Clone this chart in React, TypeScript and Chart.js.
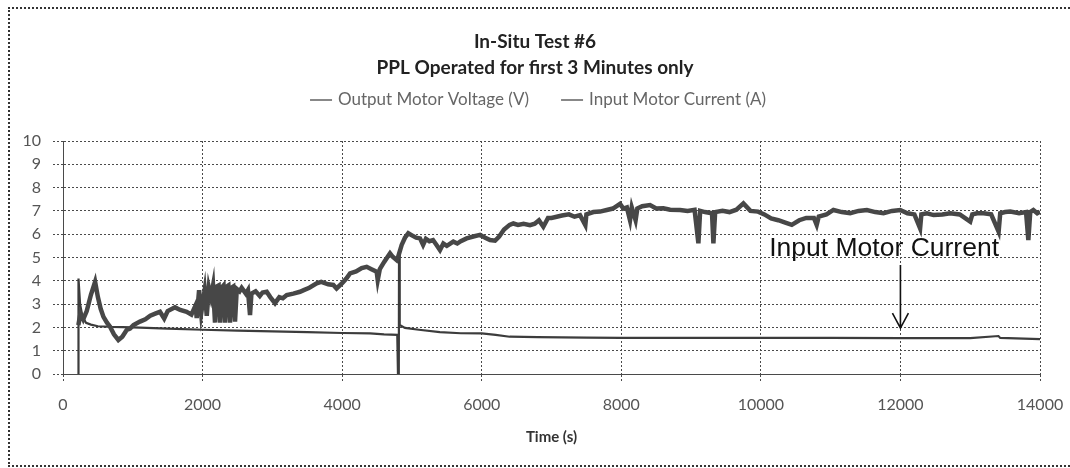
import React, { useEffect, useRef } from "react";
import { Chart, registerables } from "chart.js";

Chart.register(...registerables);

// ---------- text ----------
const TITLE_LINES = ["In-Situ Test #6", "PPL Operated for first 3 Minutes only"];
const X_AXIS_TITLE = "Time (s)";
const SERIES_NAMES = ["Output Motor Voltage (V)", "Input Motor Current (A)"];
const ANNOTATION_TEXT = "Input Motor Current";

// ---------- ticks ----------
const X_TICKS = [0, 2000, 4000, 6000, 8000, 10000, 12000, 14000];
const Y_TICKS = [0, 1, 2, 3, 4, 5, 6, 7, 8, 9, 10];

// ---------- series: Output Motor Voltage (V) ----------
const voltageTime = [
  220, 250, 290, 340, 400, 460, 500, 540, 580, 630, 674, 730, 793, 850, 912, 960,
  1010, 1103, 1180, 1250, 1330, 1390, 1450, 1500, 1605, 1680, 1772, 1840, 1900, 1916,
  1950, 1980, 2000, 2030, 2060, 2090, 2120, 2150, 2178, 2200, 2230, 2250, 2270, 2300,
  2321, 2345, 2370, 2393, 2415, 2440, 2465, 2490, 2530, 2560, 2584, 2620, 2650, 2680,
  2700, 2760, 2820, 2860, 2919, 2970, 3038, 3100, 3150, 3206, 3300, 3396, 3450, 3530,
  3635, 3700, 3800, 3874, 3920, 4000, 4060, 4113, 4200, 4280, 4352, 4420, 4495, 4510,
  4540, 4600, 4686, 4720, 4782, 4800, 4853, 4900, 4948, 5000, 5060, 5116, 5160, 5200,
  5250, 5303, 5350, 5402, 5450, 5500, 5593, 5650, 5700, 5784, 5880, 5976, 6050, 6120,
  6191, 6250, 6320, 6400, 6453, 6520, 6600, 6692, 6760, 6820, 6883, 6950, 7000, 7074,
  7150, 7250, 7330, 7409, 7485, 7500, 7600, 7695, 7791, 7880, 7982, 8030, 8080, 8125,
  8150, 8205, 8230, 8300, 8412, 8500, 8603, 8700, 8842, 8950, 9050, 9105, 9130, 9200,
  9300, 9320, 9345, 9450, 9550, 9650, 9750, 9850, 9960, 10050, 10147, 10250, 10350, 10443,
  10550, 10650, 10760, 10800, 10830, 10940, 11040, 11160, 11280, 11400, 11519, 11640, 11758, 11880,
  11997, 12100, 12200, 12282, 12300, 12380, 12475, 12600, 12714, 12850, 13000, 13030, 13100, 13192,
  13300, 13407, 13430, 13500, 13574, 13700, 13800, 13833, 13860, 13905, 13960, 14000,
];
const voltageValues = [
  2.1, 2.6, 2.35, 2.7, 3.4, 3.96, 3.3, 2.8, 2.45, 2.2, 2.03, 1.7, 1.46, 1.6, 1.89, 1.95,
  2.1, 2.25, 2.35, 2.5, 2.6, 2.67, 2.38, 2.7, 2.86, 2.75, 2.67, 2.55, 2.95, 2.4,
  3.6, 2.6, 3.0, 3.6, 2.5, 3.7, 3.3, 3.8, 2.2, 3.75, 3.8, 2.2, 3.7, 3.8,
  2.2, 3.75, 3.8, 2.2, 3.7, 3.75, 2.25, 3.65, 3.55, 3.7, 3.6, 3.45, 3.6, 2.53,
  3.45, 3.55, 3.35, 3.5, 3.53, 3.3, 3.04, 3.3, 3.25, 3.39, 3.45, 3.53, 3.6, 3.7,
  3.89, 3.95, 3.85, 3.82, 3.67, 3.9, 4.1, 4.32, 4.4, 4.55, 4.6, 4.5, 4.39, 4.03,
  4.5, 4.8, 5.18, 5.05, 4.89, 5.0, 5.54, 5.85, 6.04, 5.95, 5.85, 5.82, 5.54, 5.8,
  5.7, 5.75, 5.55, 5.32, 5.6, 5.5, 5.68, 5.6, 5.7, 5.82, 5.9, 5.97, 5.85, 5.75,
  5.72, 5.9, 6.2, 6.4, 6.46, 6.4, 6.45, 6.39, 6.45, 6.6, 6.32, 6.7, 6.7, 6.75,
  6.8, 6.85, 6.75, 6.82, 6.39, 6.85, 6.95, 6.97, 7.04, 7.1, 7.3, 7.1, 7.15, 6.6,
  7.15, 6.6, 7.1, 7.2, 7.25, 7.1, 7.11, 7.05, 7.04, 7.0, 7.05, 5.61, 7.0, 6.95,
  6.9, 5.61, 6.95, 7.0, 6.95, 7.05, 7.32, 7.0, 6.97, 6.85, 6.68, 6.6, 6.5, 6.4,
  6.6, 6.7, 6.7, 6.4, 6.76, 6.85, 7.04, 6.95, 6.9, 7.0, 7.04, 6.95, 6.9, 7.0,
  7.04, 6.9, 6.85, 6.25, 6.85, 6.9, 6.82, 6.85, 6.9, 6.85, 6.54, 6.85, 6.9, 6.9,
  6.85, 6.11, 6.9, 6.95, 6.97, 6.9, 6.95, 5.75, 6.95, 7.04, 6.9, 6.97,
];

// ---------- series: Input Motor Current (A) ----------
const currentTime = [
  220, 222, 245, 280, 330, 400, 500, 700, 1000, 1500, 2000, 2500, 3000, 3500, 4000,
  4400, 4600, 4790, 4800, 4812, 4815, 4825, 4900, 5100, 5400, 5700, 6000, 6200, 6400,
  6800, 7500, 8000, 9000, 10000, 11000, 12000, 13000, 13405, 13430, 14000,
];
const currentValues = [
  0, 4.1, 3.0, 2.45, 2.2, 2.12, 2.05, 2.02, 2.0, 1.95, 1.9, 1.86, 1.83, 1.8, 1.76,
  1.74, 1.7, 1.68, 0, 0, 5.2, 2.1, 1.98, 1.9, 1.8, 1.75, 1.74, 1.68, 1.6,
  1.58, 1.56, 1.55, 1.55, 1.55, 1.55, 1.54, 1.54, 1.63, 1.55, 1.5,
];

// annotation anchor in data units: text baseline-left, and arrow (x, from y, to y)
const ANNOTATION_TEXT_AT = { x: 10120, y: 5.06 };
const ANNOTATION_ARROW = { x: 12000, fromY: 4.68, toY: 1.97 };

const W = 1070;
const H = 468;

const customLegend = {
  id: "customLegend",
  afterDraw(chart: any) {
    const ctx = chart.ctx as CanvasRenderingContext2D;
    const sw = 22;
    const gap = 6;
    const itemGap = 32;
    ctx.save();
    ctx.font = "17px Lato";
    const items = chart.data.datasets
      .filter((ds: any) => ds.label)
      .map((ds: any) => ({ text: ds.label, color: ds.legendColor }));
    const widths = items.map((it: any) => sw + gap + ctx.measureText(it.text).width);
    const total = widths.reduce((a: number, b: number) => a + b, 0) + itemGap * (items.length - 1);
    let x = chart.width / 2 + 3 - total / 2;
    const y = 100;
    items.forEach((it: any, i: number) => {
      ctx.strokeStyle = it.color;
      ctx.lineWidth = 2;
      ctx.beginPath();
      ctx.moveTo(x, y);
      ctx.lineTo(x + sw, y);
      ctx.stroke();
      ctx.fillStyle = "#666";
      ctx.textBaseline = "middle";
      ctx.textAlign = "left";
      ctx.fillText(it.text, x + sw + gap, y);
      x += widths[i] + itemGap;
    });
    ctx.restore();
  },
};

const annotationPlugin = {
  id: "annotation",
  afterDatasetsDraw(chart: any) {
    const ctx = chart.ctx as CanvasRenderingContext2D;
    const xs = chart.scales.x;
    const ys = chart.scales.y;
    ctx.save();
    ctx.fillStyle = "#111";
    ctx.font = "26.5px 'Liberation Sans'";
    ctx.textBaseline = "alphabetic";
    ctx.textAlign = "left";
    ctx.fillText(ANNOTATION_TEXT, xs.getPixelForValue(ANNOTATION_TEXT_AT.x), ys.getPixelForValue(ANNOTATION_TEXT_AT.y));
    const ax = xs.getPixelForValue(ANNOTATION_ARROW.x);
    const y0 = ys.getPixelForValue(ANNOTATION_ARROW.fromY);
    const y1 = ys.getPixelForValue(ANNOTATION_ARROW.toY);
    ctx.strokeStyle = "#111";
    ctx.lineWidth = 1.6;
    ctx.beginPath();
    ctx.moveTo(ax, y0);
    ctx.lineTo(ax, y1);
    ctx.moveTo(ax - 8, y1 - 15);
    ctx.lineTo(ax, y1);
    ctx.lineTo(ax + 8, y1 - 15);
    ctx.stroke();
    ctx.restore();
  },
};

export default function App() {
  const ref = useRef<HTMLCanvasElement | null>(null);

  useEffect(() => {
    if (!ref.current) return;
    const gridColor = "#4a4a4a";
    const chart = new Chart(ref.current, {
      type: "line",
      data: {
        datasets: [
          {
            label: SERIES_NAMES[0],
            data: voltageTime.map((t, i) => ({ x: t, y: voltageValues[i] })),
            borderColor: "#474747",
            backgroundColor: "#474747",
            borderWidth: 4.5,
            pointRadius: 0,
            tension: 0,
            legendColor: "#888",
          } as any,
          {
            label: SERIES_NAMES[1],
            data: currentTime.map((t, i) => ({ x: t, y: currentValues[i] })),
            borderColor: "#3c3c3c",
            backgroundColor: "#3c3c3c",
            borderWidth: 2.2,
            pointRadius: 0,
            tension: 0,
            legendColor: "#888",
          } as any,
        ],
      },
      options: {
        responsive: false,
        animation: false,
        devicePixelRatio: 1,
        layout: { padding: { left: 0, right: 0, top: 0, bottom: 0 } },
        plugins: {
          legend: { display: false },
          tooltip: { enabled: false },
          title: {
            display: true,
            text: TITLE_LINES,
            color: "#222",
            font: { family: "Lato", size: 19, weight: "bold", lineHeight: 26 / 19 },
            padding: { top: 29, bottom: 60 },
          },
        },
        scales: {
          x: {
            type: "linear",
            min: 0,
            max: 14000,
            afterBuildTicks: (s: any) => {
              s.ticks = X_TICKS.map((v) => ({ value: v }));
            },
            afterFit: (s: any) => {
              s.height = 94;
              s.paddingLeft = 0;
              s.paddingRight = 0;
            },
            ticks: {
              color: "#555",
              font: { family: "Lato", size: 16 },
              padding: 13,
              maxRotation: 0,
              callback: (v: any) => String(v),
            },
            grid: {
              color: gridColor,
              lineWidth: 1,
              borderDash: [2, 2],
              tickLength: 8,
              tickColor: gridColor,
              tickBorderDash: [2, 2],
            },
            border: { display: true, color: gridColor, dash: [2, 2] },
            title: {
              display: true,
              text: X_AXIS_TITLE,
              color: "#333",
              font: { family: "Lato", size: 15, weight: "bold" },
              padding: { top: 0, bottom: 22 },
            },
          },
          y: {
            min: 0,
            max: 10,
            afterBuildTicks: (s: any) => {
              s.ticks = Y_TICKS.map((v) => ({ value: v }));
            },
            afterFit: (s: any) => {
              s.width = 63;
              s.paddingTop = 0;
              s.paddingBottom = 0;
            },
            ticks: {
              color: "#555",
              font: { family: "Lato", size: 16 },
              padding: 12,
            },
            grid: {
              color: gridColor,
              lineWidth: 1,
              borderDash: [2, 2],
              tickLength: 10,
              tickColor: gridColor,
              tickBorderDash: [2, 2],
            },
            border: { display: true, color: gridColor, dash: [2, 2] },
          },
          yRightSpace: {
            position: "right",
            min: 0,
            max: 10,
            afterFit: (s: any) => {
              s.width = 30;
              s.paddingTop = 0;
              s.paddingBottom = 0;
            },
            ticks: { display: false },
            grid: { display: false, drawOnChartArea: false },
            border: { display: false },
          },
        },
      } as any,
      plugins: [customLegend, annotationPlugin],
    });
    return () => chart.destroy();
  }, []);

  return (
    <div style={{ position: "fixed", left: 0, top: 0, width: W, height: H, overflow: "hidden", background: "#fff" }}>
      <div
        style={{
          position: "absolute",
          left: 8,
          top: 7,
          width: W,
          height: 460,
          boxSizing: "border-box",
          borderTop: "2px dotted #333",
          borderLeft: "2px dotted #333",
          borderBottom: "2px dotted #333",
        }}
      />
      <canvas ref={ref} width={W} height={H} style={{ position: "absolute", left: 0, top: 0 }} />
    </div>
  );
}
